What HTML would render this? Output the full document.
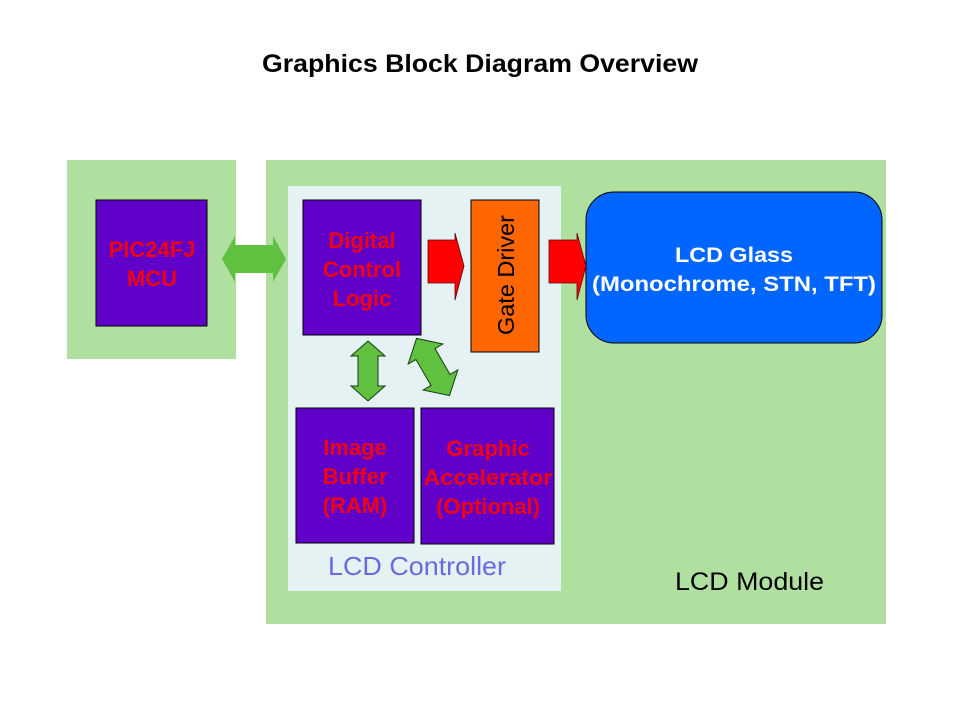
<!DOCTYPE html>
<html><head><meta charset="utf-8"><style>html,body{margin:0;padding:0;background:#fff}svg{display:block}text{font-family:"Liberation Sans",Arial,sans-serif}</style></head>
<body>
<svg width="960" height="720" viewBox="0 0 960 720" xmlns="http://www.w3.org/2000/svg">
<rect width="960" height="720" fill="#fff"/>
<text x="262" y="72" font-size="25" font-weight="bold" fill="#000" textLength="436" lengthAdjust="spacingAndGlyphs">Graphics Block Diagram Overview</text>
<rect x="67" y="160" width="169" height="199" fill="#b0e0a0"/>
<rect x="266" y="160" width="620" height="464" fill="#b0e0a0"/>
<rect x="288" y="186" width="273" height="405" fill="#e4f2f4"/>
<rect x="96" y="200" width="111" height="126" fill="#6000c8" stroke="#000" stroke-width="1"/>
<text font-size="22" font-weight="bold" fill="#f00010" text-anchor="middle"><tspan x="152" y="257">PIC24FJ</tspan><tspan x="152" y="286">MCU</tspan></text>
<rect x="303" y="200" width="118" height="135" fill="#6000c8" stroke="#000" stroke-width="1"/>
<text font-size="22" font-weight="bold" fill="#f00010" text-anchor="middle"><tspan x="362" y="248">Digital</tspan><tspan x="362" y="277">Control</tspan><tspan x="362" y="306">Logic</tspan></text>
<rect x="471" y="200" width="68" height="152" fill="#ff6600" stroke="#000" stroke-width="1"/>
<text transform="translate(514,275) rotate(-90)" font-size="23" fill="#000" text-anchor="middle" textLength="120" lengthAdjust="spacingAndGlyphs">Gate Driver</text>
<rect x="586" y="192" width="296" height="151" rx="28" fill="#0066ff" stroke="#000" stroke-width="1"/>
<text font-size="21" font-weight="bold" fill="#fff"><tspan x="675" y="262" textLength="118" lengthAdjust="spacingAndGlyphs">LCD Glass</tspan><tspan x="592" y="291" textLength="284" lengthAdjust="spacingAndGlyphs">(Monochrome, STN, TFT)</tspan></text>
<rect x="296" y="408" width="118" height="135" fill="#6000c8" stroke="#000" stroke-width="1"/>
<text font-size="22" font-weight="bold" fill="#f00010" text-anchor="middle"><tspan x="355" y="455">Image</tspan><tspan x="355" y="484">Buffer</tspan><tspan x="355" y="513">(RAM)</tspan></text>
<rect x="421" y="408" width="133" height="136" fill="#6000c8" stroke="#000" stroke-width="1"/>
<text font-size="22" font-weight="bold" fill="#f00010" text-anchor="middle"><tspan x="488" y="456">Graphic</tspan><tspan x="488" y="485" textLength="129" lengthAdjust="spacingAndGlyphs">Accelerator</tspan><tspan x="488" y="514">(Optional)</tspan></text>
<text x="328" y="575" font-size="26" fill="#6a6ae0" textLength="178" lengthAdjust="spacingAndGlyphs">LCD Controller</text>
<text x="675" y="590" font-size="25" fill="#000" textLength="149" lengthAdjust="spacingAndGlyphs">LCD Module</text>
<polygon points="222,259 235,236 235,245 273,245 273,236 286,259 273,282 273,273 235,273 235,282" fill="#60c040"/>
<polygon points="428,240 455,240 455,233 464,266 455,300 455,283 428,283" fill="#ff0000" stroke="#600" stroke-width="0.8"/>
<polygon points="549,240 577,240 577,233 586,266 577,300 577,283 549,283" fill="#ff0000" stroke="#600" stroke-width="0.8"/>
<polygon points="368,341 385,356 378,356 378,386 385,386 368,401 351,386 358,386 358,356 351,356" fill="#60c040" stroke="#1a3a10" stroke-width="1"/>
<g transform="translate(433,367) rotate(-30)">
<polygon points="0,-33 20,-15 11,-15 11,15 20,15 0,33 -20,15 -11,15 -11,-15 -20,-15" fill="#60c040" stroke="#1a3a10" stroke-width="1"/>
</g>
</svg>
</body></html>
